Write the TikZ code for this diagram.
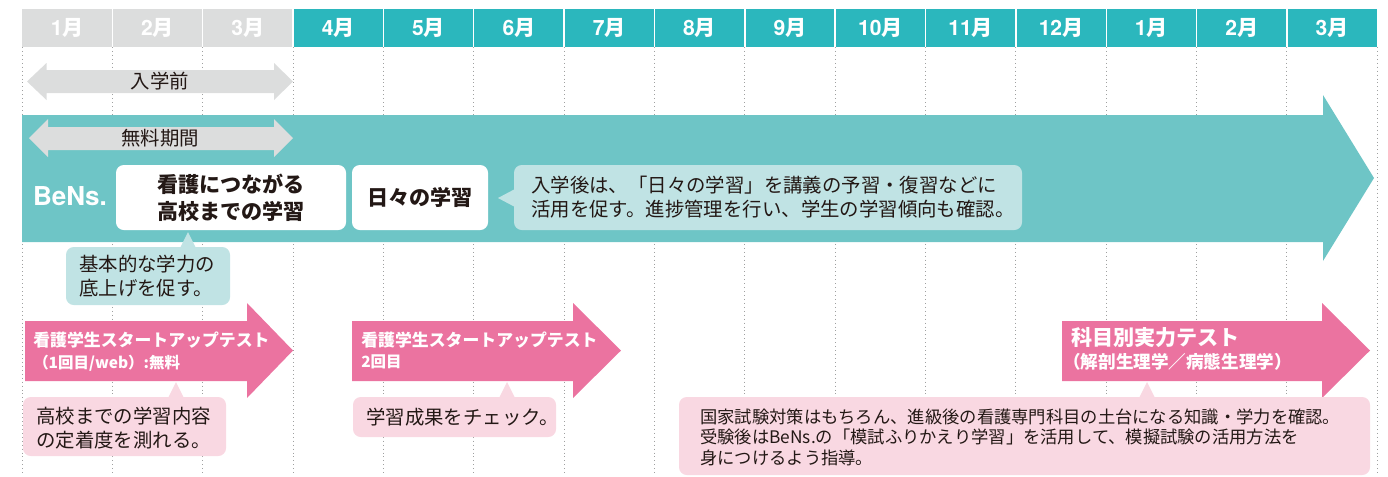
\documentclass[tikz,border=0pt]{standalone}
\usepackage{fontspec}
\setmainfont{Noto Sans CJK JP}
\newfontfamily\heros{TeX Gyre Heros}
\definecolor{hdgray}{HTML}{DCDDDD}
\definecolor{hdteal}{HTML}{2BB7BD}
\definecolor{band}{HTML}{6EC5C6}
\definecolor{lteal}{HTML}{C0E3E4}
\definecolor{pink}{HTML}{EB73A0}
\definecolor{lpink}{HTML}{F9D8E2}
\definecolor{ink}{HTML}{231815}
\definecolor{dotgray}{HTML}{9FA0A0}

\begin{document}
\begin{tikzpicture}[x=0.025cm,y=-0.025cm,
    month/.style={text=white,font=\fontsize{15}{18}\selectfont\bfseries},
    body/.style={text=ink,inner sep=0pt,align=left,font=\fontsize{13.8}{17}\selectfont},
    boxtext/.style={text=ink,inner sep=0pt,align=center,font=\fontsize{15}{19}\selectfont\bfseries},
    testtitle/.style={text=white,inner sep=0pt,anchor=west,font=\fontsize{12}{14}\selectfont\bfseries},
    testsub/.style={text=white,inner sep=0pt,anchor=west,font=\fontsize{11}{13}\selectfont\bfseries},
    bubble/.style={rounded corners=5.5pt}]

    \useasboundingbox (0,0) rectangle (1388,476);

    % dotted month lines
    \foreach \i in {0,...,15}
        \draw[dotgray,line width=0.6pt,dash pattern=on 0.6pt off 2.2pt] (22+\i*90.35,47) -- (22+\i*90.35,476);

    % month header
    \foreach \i in {0,...,14}
        \fill[hdteal] (22+\i*90.35,9) rectangle +(90.35,38);
    \foreach \i in {0,1,2}
        \fill[hdgray] (22+\i*90.35,9) rectangle +(90.35,38);
    \foreach \i in {1,...,14}
        \draw[white,line width=1pt] (22+\i*90.35,9) -- (22+\i*90.35,47);
    \foreach \m [count=\i from 0] in {1,2,3,4,5,6,7,8,9,10,11,12,1,2,3}
        \node[month] (m\i) at (22+\i*90.35+45.17,28) {{\heros\m}月};

    % before entrance
    \fill[hdgray] (27,81.5) -- (46.5,63) -- (46.5,70) -- (274,70) -- (274,63) -- (293,81.5)
        -- (274,100) -- (274,93) -- (46.5,93) -- (46.5,100) -- cycle;
    \node[body] (pre) at (160,81.5) {入学前};

    % BeNs. band
    \fill[band] (22,115) -- (1323,115) -- (1323,95) -- (1374,178) -- (1323,261) -- (1323,242) -- (22,242) -- cycle;
    \fill[hdgray] (29,138) -- (48,119) -- (48,127) -- (274,127) -- (274,119) -- (293,138)
        -- (274,157) -- (274,150) -- (48,150) -- (48,157) -- cycle;
    \node[body] (free) at (160,138) {無料期間};
    \node[text=white,font=\heros\fontsize{18.5}{20}\selectfont\bfseries] (bens) at (70,196) {BeNs.};

    \fill[white,bubble] (116,165) rectangle (346,230);
    \node[boxtext] (koko) at (231,197.5) {看護につながる\\高校までの学習};
    \fill[white,bubble] (352,165) rectangle (488,230);
    \node[boxtext] (hibi) at (420,197.5) {日々の学習};

    \fill[lteal,bubble] (514,165) rectangle (1022,230);
    \fill[lteal] (498,198) -- (515,189) -- (515,207) -- cycle;
    \node[body,anchor=west] (hibinote) at (531,197.5) {入学後は、「日々の学習」を講義の予習・復習などに\\活用を促す。進捗管理を行い、学生の学習傾向も確認。};

    \fill[lteal,bubble] (66,247) rectangle (230,305);
    \fill[lteal] (188,232) -- (180,248) -- (196,248) -- cycle;
    \node[body,anchor=west] (kihon) at (79,276) {基本的な学力の\\底上げを促す。};

    % start-up test 1
    \fill[pink] (25,321) -- (247,321) -- (247,303) -- (293,350.5) -- (247,398) -- (247,381) -- (25,381) -- cycle;
    \node[testtitle] (test1) at (33,340) {看護学生スタートアップテスト};
    \node[testsub] (test1sub) at (33,363) {（1回目/web）:無料};
    \fill[lpink,bubble] (23,397) rectangle (226,456);
    \fill[lpink] (176,382) -- (168,398) -- (184,398) -- cycle;
    \node[body,anchor=west] (test1note) at (36,428) {高校までの学習内容\\の定着度を測れる。};

    % start-up test 2
    \fill[pink] (352,321) -- (573,321) -- (573,303) -- (621,350.5) -- (573,398) -- (573,381) -- (352,381) -- cycle;
    \node[testtitle] (test2) at (361,340) {看護学生スタートアップテスト};
    \node[testsub] (test2sub) at (361,362) {2回目};
    \fill[lpink,bubble] (353,397) rectangle (556,437);
    \fill[lpink] (507,382) -- (499,398) -- (515,398) -- cycle;
    \node[body,anchor=west] (test2note) at (366,417) {学習成果をチェック。};

    % subject test
    \fill[pink] (1062,321) -- (1322,321) -- (1322,303) -- (1370,350.5) -- (1322,398) -- (1322,381) -- (1062,381) -- cycle;
    \node[testtitle,font=\fontsize{15}{17}\selectfont\bfseries] (subj) at (1071,338) {科目別実力テスト};
    \node[testtitle,font=\fontsize{12.5}{14}\selectfont\bfseries] (subjsub) at (1063,362) {（解剖生理学／病態生理学）};
    \fill[lpink,bubble] (679,397) rectangle (1370,475);
    \fill[lpink] (1147,382) -- (1139,398) -- (1155,398) -- cycle;
    \node[body,anchor=west,font=\fontsize{12.3}{14.5}\selectfont] (subjnote) at (700,437)
        {国家試験対策はもちろん、進級後の看護専門科目の土台になる知識・学力を確認。\\受験後はBeNs.の「模試ふりかえり学習」を活用して、模擬試験の活用方法を\\身につけるよう指導。};

\end{tikzpicture}
\end{document}
